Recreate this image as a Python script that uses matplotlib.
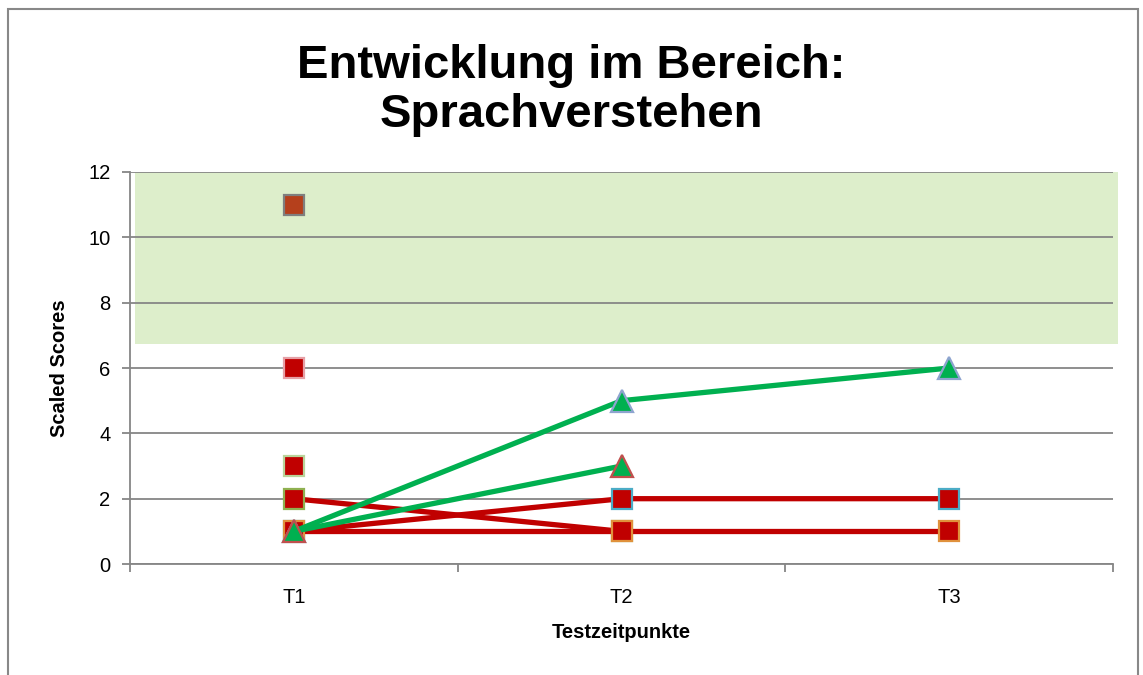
import matplotlib.pyplot as plt
import numpy as np
from matplotlib.patches import Rectangle
from matplotlib.transforms import blended_transform_factory

plt.rcParams['font.family'] = ['Liberation Sans', 'DejaVu Sans']

# data
categories = ['T1', 'T2', 'T3']
nan = np.nan
red_series = [
    [11, nan, nan],
    [6, nan, nan],
    [3, nan, nan],
    [2, 1, nan],
    [1, 2, 2],
    [1, 1, 1],
]
red_faces = ['#B5401C', '#C00000', '#C00000', '#C00000', '#C00000', '#C00000']
red_edges = ['#7F7F7F', '#E6A0A6', '#B9D49A', '#8FB050', '#4BACC6', '#E0913C']
green_series = [
    [1, 5, 6],
    [1, 3, nan],
]
green_edges = ['#8EA4CF', '#C0504D']
band_low, band_high = 6.75, 12

fig = plt.figure(figsize=(11.43, 6.75), dpi=100)
ax = fig.add_axes([0.1137, 0.1644, 0.8601, 0.5808])

x = np.arange(len(categories)) + 0.5

# green target band
trans = blended_transform_factory(ax.transAxes, ax.transData)
ax.add_patch(Rectangle((0.005, band_low), 1.0, band_high - band_low,
                       transform=trans, facecolor='#DDEECB', edgecolor='none',
                       zorder=0, clip_on=False))

ax.set_ylim(0, 12)
ax.set_xlim(0, 3)
ax.set_yticks(range(0, 13, 2))
ax.yaxis.grid(True, color='#868686', linewidth=1.3, zorder=1)
ax.set_axisbelow(False)
for gl in ax.get_ygridlines():
    gl.set_zorder(1)

for ys, fc, ec in zip(red_series, red_faces, red_edges):
    ax.plot(x, ys, color='#C00000', linewidth=3.8, marker='s', markersize=14,
            markerfacecolor=fc, markeredgecolor=ec, markeredgewidth=1.6, zorder=3)
for ys, ec in zip(green_series, green_edges):
    ax.plot(x, ys, color='#00B050', linewidth=3.8, marker='^', markersize=16,
            markerfacecolor='#00B050', markeredgecolor=ec, markeredgewidth=1.6, zorder=4)

# axes styling
for s in ['top', 'right']:
    ax.spines[s].set_visible(False)
for s in ['left', 'bottom']:
    ax.spines[s].set_color('#868686')
    ax.spines[s].set_linewidth(1.3)
ax.set_xticks([0, 1, 2, 3])
ax.set_xticklabels([])
ax.set_xticks(x, minor=True)
ax.set_xticklabels(categories, minor=True)
ax.tick_params(axis='x', which='minor', length=0, pad=17, labelsize=14.5)
ax.tick_params(axis='x', which='major', length=6, color='#868686', width=1.3)
ax.tick_params(axis='y', length=6, color='#868686', width=1.3, labelsize=14.5, pad=8)

ax.set_xlabel('Testzeitpunkte', fontsize=14.5, fontweight='bold', labelpad=12)
ax.set_ylabel('Scaled Scores', fontsize=14.5, fontweight='bold', labelpad=14)

fig.text(0.5, 0.866, 'Entwicklung im Bereich:\nSprachverstehen', ha='center', va='center',
         fontsize=34, fontweight='bold', linespacing=1.15)

# chart frame
fig.patches.append(Rectangle((8 / 1143, -0.05), 1130 / 1143, 1 - 9 / 675 + 0.05,
                             transform=fig.transFigure, fill=False,
                             edgecolor='#888888', linewidth=1.5))

fig.savefig('out.png', dpi=100)
